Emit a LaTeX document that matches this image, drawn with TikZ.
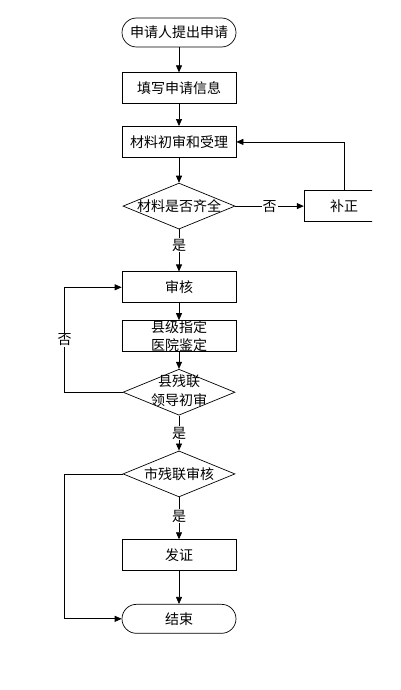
\documentclass[tikz,border=0pt]{standalone}
\usepackage{fontspec}
\setmainfont{Noto Sans CJK SC}
\usetikzlibrary{arrows.meta,positioning,shapes.geometric}

\begin{document}
\begin{tikzpicture}[x=1pt,y=-1pt,node distance=22pt,>={Triangle[length=7pt,width=6pt]},line width=0.7pt,font=\fontsize{14}{19}\selectfont]
    \tikzstyle{b}=[rectangle,draw,align=center,minimum width=114pt,minimum height=31pt,inner sep=0pt]
    \tikzstyle{se}=[b,rounded corners=14.5pt,minimum height=29pt]
    \tikzstyle{d}=[diamond,draw,inner sep=0pt,minimum width=112pt,minimum height=46pt]
    \tikzstyle{dt}=[align=center,inner sep=0pt]
    \tikzstyle{t}=[fill=white,inner sep=1pt]
    \useasboundingbox (0,0) rectangle (400,690);
    \clip (0,0) rectangle (372,690);
    \node[se] at (179,32.5) (start) {申请人提出申请};
    \node[b,below=25pt of start] (fill) {填写申请信息};
    \node[b,below=of fill] (check) {材料初审和受理};
    \node[d,below=25pt of check,label={[dt]center:材料是否齐全}] (chk1) {};
    \node[b,right=68.5pt of chk1,minimum width=80pt] (fix) {补正};
    \node[b,below=42pt of chk1] (audit) {审核};
    \node[b,below=17pt of audit,font=\fontsize{14}{18}\selectfont] (hosp) {县级指定\\医院鉴定};
    \node[d,below=17pt of hosp,label={[dt,yshift=2pt]center:县残联\\领导初审}] (chk2) {};
    \node[d,below=35pt of chk2,label={[dt]center:市残联审核}] (chk3) {};
    \node[b,below=42pt of chk3] (cert) {发证};
    \node[se,below=33pt of cert] (stop) {结束};
    \draw[->] (start) -- (fill);
    \draw[->] (fill) -- (check);
    \draw[->] (check) -- (chk1);
    \draw[->] (chk1) -- node[t]{否} (fix);
    \draw[->] (fix) |- (check);
    \draw[->] (chk1) -- node[t,pos=0.37]{是} (audit);
    \draw[->] (audit) -- (hosp);
    \draw[->] (hosp) -- (chk2);
    \draw[->] (chk2.west) -- ++(-58,0) |- node[t,pos=0.25]{否} (audit.west);
    \draw[->] (chk2) -- node[t]{是} (chk3);
    \draw[->] (chk3) -- node[t,pos=0.45]{是} (cert);
    \draw[->] (cert) -- (stop);
    \draw[->] (chk3.west) -- ++(-58,0) |- (stop.west);
  \end{tikzpicture}
\end{document}
